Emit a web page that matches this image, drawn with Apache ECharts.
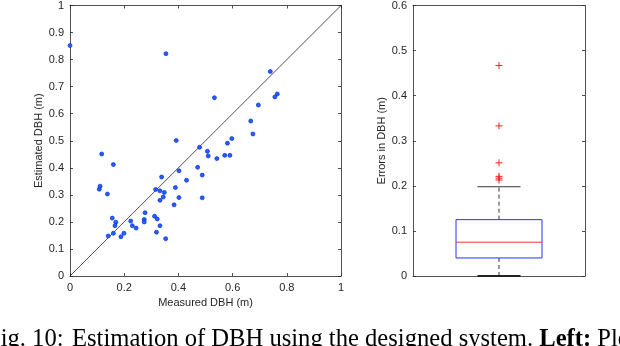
<!DOCTYPE html>
<html>
<head>
<meta charset="utf-8">
<script src="https://cdn.jsdelivr.net/npm/echarts@6/dist/echarts.min.js"></script>
<style>
html, body { margin: 0; padding: 0; background: #fff; }
#main { width: 620px; height: 346px; }
</style>
</head>
<body>
<div id="main"></div>
<script>
// measured vs estimated DBH (m)
const measured = [
    0.000, 0.354, 0.117, 0.160, 0.111, 0.108, 0.138, 0.156, 0.169, 0.166,
    0.141, 0.160, 0.188, 0.199, 0.224, 0.230, 0.244, 0.277, 0.274, 0.274,
    0.312, 0.322, 0.319, 0.332, 0.353, 0.316, 0.332, 0.332, 0.344, 0.348,
    0.338, 0.384, 0.389, 0.402, 0.402, 0.392, 0.430, 0.471, 0.488, 0.488,
    0.478, 0.507, 0.510, 0.542, 0.571, 0.590, 0.581, 0.597, 0.675, 0.739,
    0.533, 0.765, 0.756, 0.695, 0.667
];
const estimated = [
    0.852, 0.822, 0.451, 0.412, 0.332, 0.321, 0.303, 0.214, 0.199, 0.186,
    0.148, 0.158, 0.145, 0.158, 0.203, 0.186, 0.177, 0.234, 0.209, 0.200,
    0.221, 0.211, 0.162, 0.186, 0.138, 0.320, 0.315, 0.280, 0.292, 0.309,
    0.366, 0.263, 0.327, 0.290, 0.389, 0.501, 0.354, 0.402, 0.373, 0.289,
    0.476, 0.461, 0.444, 0.434, 0.446, 0.446, 0.491, 0.508, 0.525, 0.756,
    0.659, 0.673, 0.662, 0.632, 0.573
];
const identityLine = [[0, 0], [1, 1]];

// error box plot: lower whisker, q1, median, q3, upper whisker
const boxStats = [0, 0.040, 0.075, 0.125, 0.198];
const outliers = [0.467, 0.333, 0.251, 0.221, 0.217, 0.213];

const xTicks = [0, 0.2, 0.4, 0.6, 0.8, 1];
const yTicks = [0, 0.1, 0.2, 0.3, 0.4, 0.5, 0.6, 0.7, 0.8, 0.9, 1];
const errTicks = [0, 0.1, 0.2, 0.3, 0.4, 0.5, 0.6];

const axisColor = '#262626';
const txt = { color: axisColor, fontFamily: 'Liberation Sans', fontSize: 11 };

function valAxis(opt) {
    return Object.assign({
        type: 'value',
        axisLine: { show: true, onZero: false, lineStyle: { color: axisColor, width: 0.8 } },
        axisTick: { show: true, inside: true, length: 3, lineStyle: { color: axisColor, width: 0.8 } },
        axisLabel: Object.assign({ margin: 6 }, txt),
        splitLine: { show: false },
        nameTextStyle: txt,
        nameLocation: 'middle'
    }, opt);
}
function mirror(opt) {
    return valAxis(Object.assign({ axisLabel: { show: false } }, opt));
}

const chart = echarts.init(document.getElementById('main'));

const option = {
    backgroundColor: '#fff',
    animation: false,
    grid: [
        { left: 70, top: 5, width: 271, height: 271 },
        { left: 413, top: 5, width: 172, height: 271 }
    ],
    xAxis: [
        valAxis({ gridIndex: 0, min: xTicks[0], max: xTicks[xTicks.length - 1], interval: 0.2,
            name: 'Measured DBH (m)', nameGap: 20 }),
        mirror({ gridIndex: 0, position: 'top', min: 0, max: 1, interval: 0.2 }),
        mirror({ gridIndex: 1, min: 0.5, max: 1.5, interval: 0.5, axisTick: { show: false } }),
        mirror({ gridIndex: 1, position: 'top', min: 0.5, max: 1.5, interval: 0.5, axisTick: { show: false } })
    ],
    yAxis: [
        valAxis({ gridIndex: 0, min: yTicks[0], max: yTicks[yTicks.length - 1], interval: 0.1,
            name: 'Estimated DBH (m)', nameGap: 20 }),
        mirror({ gridIndex: 0, position: 'right', min: 0, max: 1, interval: 0.1 }),
        valAxis({ gridIndex: 1, min: errTicks[0], max: errTicks[errTicks.length - 1], interval: 0.1,
            name: 'Errors in DBH (m)', nameGap: 23 }),
        mirror({ gridIndex: 1, position: 'right', min: 0, max: 0.6, interval: 0.1 })
    ],
    series: [
        {
            type: 'line',
            xAxisIndex: 0, yAxisIndex: 0,
            data: identityLine,
            symbol: 'none',
            lineStyle: { color: '#222', width: 0.8 },
            z: 1
        },
        {
            type: 'scatter',
            xAxisIndex: 0, yAxisIndex: 0,
            data: measured.map((m, i) => [m, estimated[i]]),
            symbolSize: 4,
            itemStyle: { color: '#2a5cff', borderColor: '#0030dd', borderWidth: 0.7, opacity: 1 },
            z: 3
        },
        {
            type: 'custom',
            xAxisIndex: 2, yAxisIndex: 2,
            data: [[1]],
            clip: false,
            renderItem: function (params, api) {
                const [lo, q1, med, q3, hi] = boxStats;
                const c = (x, y) => api.coord([x, y]);
                const seg = (a, b, style) => ({
                    type: 'line',
                    shape: { x1: a[0], y1: a[1], x2: b[0], y2: b[1] },
                    style: style
                });
                const dash = { stroke: '#000', lineWidth: 0.8, lineDash: [4, 3] };
                const solid = { stroke: '#333', lineWidth: 1.2 };
                const tl = c(0.75, q3), br = c(1.25, q1);
                const kids = [
                    seg(c(1, q3), c(1, hi), dash),
                    seg(c(1, lo), c(1, q1), dash),
                    seg(c(0.875, hi), c(1.125, hi), solid),
                    seg(c(0.875, lo), c(1.125, lo), { stroke: '#222', lineWidth: 2 }),
                    {
                        type: 'rect',
                        shape: { x: tl[0], y: tl[1], width: br[0] - tl[0], height: br[1] - tl[1] },
                        style: { fill: 'none', stroke: '#2233ff', lineWidth: 1 }
                    },
                    seg(c(0.75, med), c(1.25, med), { stroke: '#ff3333', lineWidth: 1 })
                ];
                outliers.forEach(function (v) {
                    const p = c(1, v);
                    const st = { stroke: '#ff2020', lineWidth: 1 };
                    kids.push(seg([p[0] - 3.5, p[1]], [p[0] + 3.5, p[1]], st));
                    kids.push(seg([p[0], p[1] - 3.5], [p[0], p[1] + 3.5], st));
                });
                return { type: 'group', children: kids };
            },
            z: 3
        }
    ],
    graphic: [
        {
            type: 'text',
            left: -13,
            top: 327,
            style: {
                text: 'Fig. 10:',
                fill: '#000',
                font: '24.6px "Liberation Serif"'
            }
        },
        {
            type: 'text',
            left: 72,
            top: 327,
            style: {
                text: 'Estimation of DBH using the designed system. {b|Left:} Plot of',
                fill: '#000',
                font: '24.6px "Liberation Serif"',
                rich: {
                    b: { fontFamily: 'Liberation Serif', fontSize: 24.6, fontWeight: 'bold', fill: '#000' }
                }
            }
        }
    ]
};

chart.setOption(option);
</script>
</body>
</html>
